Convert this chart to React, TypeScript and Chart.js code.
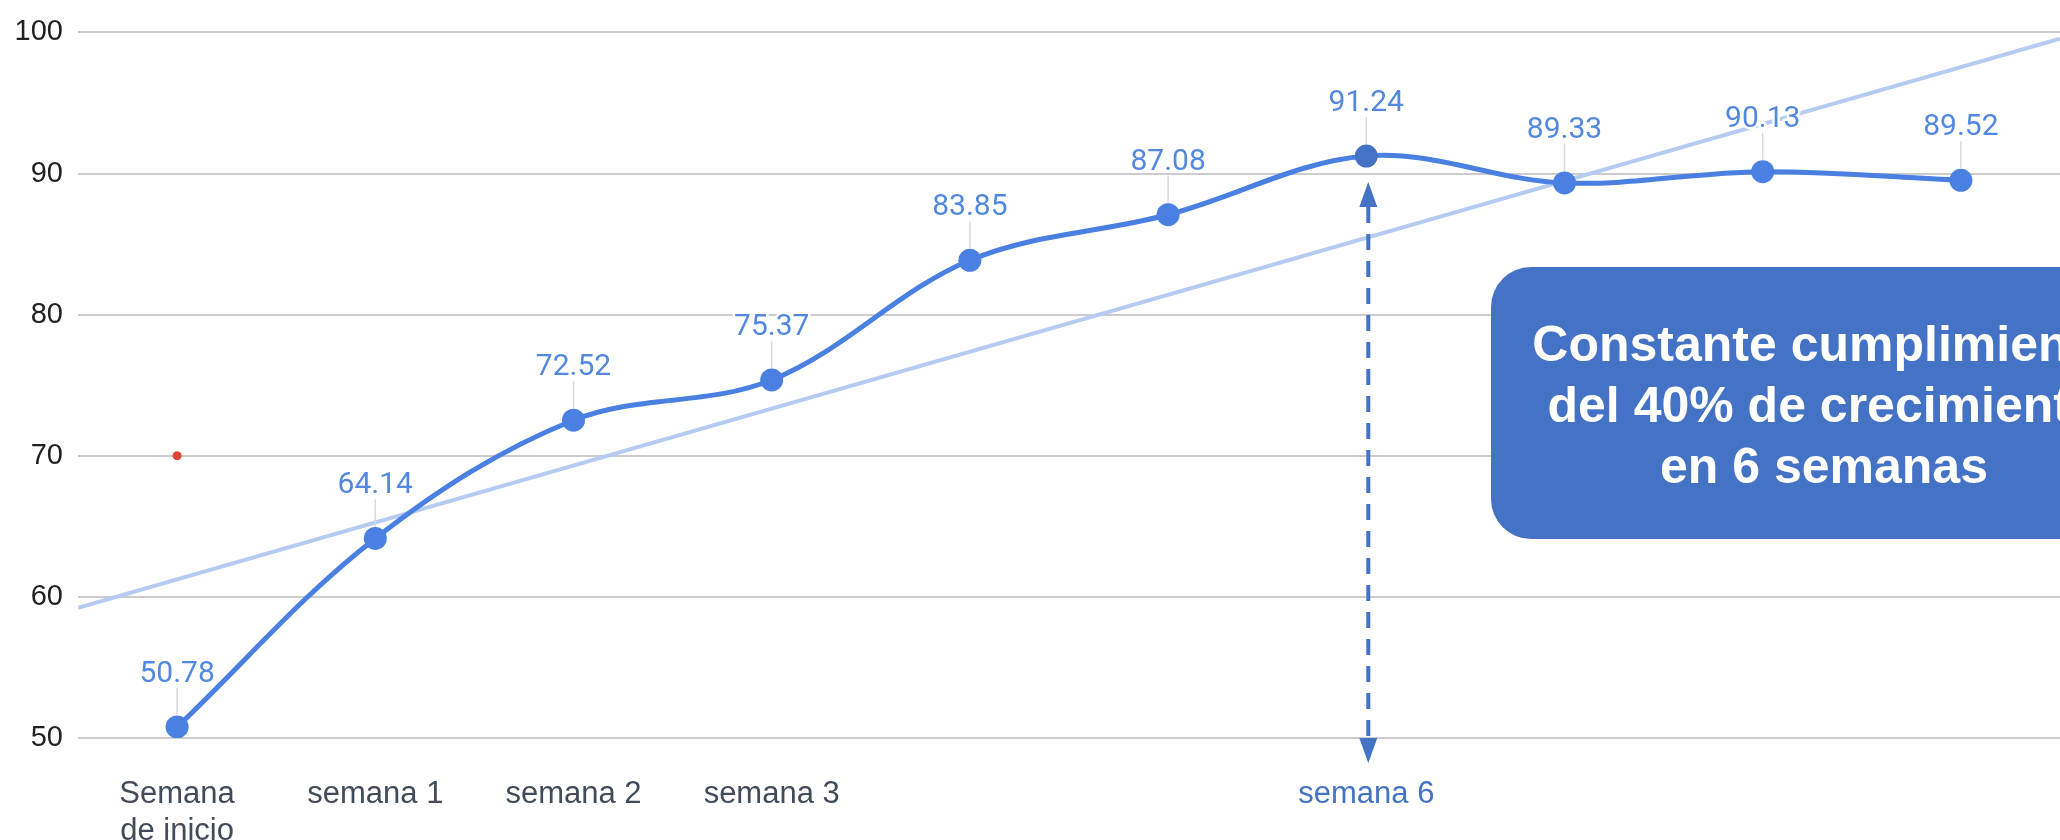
import React, { useEffect, useRef } from 'react';
import { Chart, registerables } from 'chart.js';

Chart.register(...registerables);

// ---- data ----
const xLabels: (string | string[])[] = [
  ['Semana', 'de inicio'],
  'semana 1',
  'semana 2',
  'semana 3',
  '',
  '',
  'semana 6',
  '',
  '',
  '',
];
const scores: number[] = [50.78, 64.14, 72.52, 75.37, 83.85, 87.08, 91.24, 89.33, 90.13, 89.52];
const goalIndex: number[] = [0];
const goalValues: number[] = [70];
const yTicks: number[] = [50, 60, 70, 80, 90, 100];
const highlightIndex = 6;
const noteLines: string[] = ['Constante cumplimiento', 'del 40% de crecimiento', 'en 6 semanas'];

// ---- styles ----
const LINE_BLUE = '#4a80e2';
const DARK_BLUE = '#4472c4';
const TREND_BLUE = '#b5cbf1';
const LABEL_BLUE = '#5288e0';
const SANS = "'Liberation Sans', Arial, sans-serif";

function linearFit(vals: number[]) {
  const n = vals.length;
  const mx = (n - 1) / 2;
  const my = vals.reduce((a, b) => a + b, 0) / n;
  let sxy = 0;
  let sxx = 0;
  vals.forEach((v, i) => {
    sxy += (i - mx) * (v - my);
    sxx += (i - mx) * (i - mx);
  });
  const m = sxy / sxx;
  return { m, b: my - m * mx };
}

const valueLabels = {
  id: 'valueLabels',
  afterDatasetsDraw(chart: any) {
    const meta = chart.getDatasetMeta(0);
    const ctx = chart.ctx as CanvasRenderingContext2D;
    ctx.save();
    meta.data.forEach((pt: any, i: number) => {
      const x = pt.x;
      const y = pt.y;
      ctx.strokeStyle = '#d9d9d9';
      ctx.lineWidth = 1.5;
      ctx.beginPath();
      ctx.moveTo(x, y - 39);
      ctx.lineTo(x, y - 12);
      ctx.stroke();
      const txt = scores[i].toFixed(2);
      ctx.font = '30px Roboto';
      ctx.textAlign = 'center';
      ctx.textBaseline = 'alphabetic';
      ctx.lineJoin = 'round';
      ctx.lineWidth = 5;
      ctx.strokeStyle = '#ffffff';
      ctx.strokeText(txt, x, y - 45);
      ctx.fillStyle = LABEL_BLUE;
      ctx.fillText(txt, x, y - 45);
    });
    ctx.restore();
  },
};

const annotations = {
  id: 'annotations',
  afterDraw(chart: any) {
    const ctx = chart.ctx as CanvasRenderingContext2D;
    const xs = chart.scales.x;
    const ys = chart.scales.y;
    const area = chart.chartArea;
    const ax = xs.getPixelForValue(highlightIndex) + 2;
    const topTip = ys.getPixelForValue(scores[highlightIndex]) + 26;
    const botTip = area.bottom + 25;
    const head = 25;
    const half = 9;
    ctx.save();
    // dashed shaft
    ctx.strokeStyle = DARK_BLUE;
    ctx.lineWidth = 4;
    ctx.setLineDash([16, 11]);
    ctx.beginPath();
    ctx.moveTo(ax, topTip + head);
    ctx.lineTo(ax, botTip - head);
    ctx.stroke();
    ctx.setLineDash([]);
    ctx.fillStyle = DARK_BLUE;
    ctx.beginPath();
    ctx.moveTo(ax, topTip);
    ctx.lineTo(ax - half, topTip + head);
    ctx.lineTo(ax + half, topTip + head);
    ctx.closePath();
    ctx.fill();
    ctx.beginPath();
    ctx.moveTo(ax, botTip);
    ctx.lineTo(ax - half, botTip - head);
    ctx.lineTo(ax + half, botTip - head);
    ctx.closePath();
    ctx.fill();

    // note box
    const bx = 1491;
    const by = 267;
    const bw = 666;
    const bh = 272;
    const r = 40;
    ctx.fillStyle = DARK_BLUE;
    ctx.beginPath();
    ctx.moveTo(bx + r, by);
    ctx.lineTo(bx + bw - r, by);
    ctx.arcTo(bx + bw, by, bx + bw, by + r, r);
    ctx.lineTo(bx + bw, by + bh - r);
    ctx.arcTo(bx + bw, by + bh, bx + bw - r, by + bh, r);
    ctx.lineTo(bx + r, by + bh);
    ctx.arcTo(bx, by + bh, bx, by + bh - r, r);
    ctx.lineTo(bx, by + r);
    ctx.arcTo(bx, by, bx + r, by, r);
    ctx.closePath();
    ctx.fill();
    ctx.fillStyle = '#ffffff';
    ctx.font = `bold 50px ${SANS}`;
    ctx.textAlign = 'center';
    ctx.textBaseline = 'alphabetic';
    const cx = bx + bw / 2;
    noteLines.forEach((line, i) => {
      ctx.fillText(line, cx, 361 + i * 61);
    });
    ctx.restore();
  },
};

export default function App() {
  const canvasRef = useRef<HTMLCanvasElement | null>(null);

  useEffect(() => {
    document.body.style.margin = '0';
    const canvas = canvasRef.current;
    if (!canvas) return;
    const fit = linearFit(scores);
    const trendData = [
      { x: -0.5, y: fit.b + fit.m * -0.5 },
      { x: xLabels.length - 0.5, y: fit.b + fit.m * (xLabels.length - 0.5) },
    ];
    const chart = new Chart(canvas, {
      type: 'line',
      data: {
        datasets: [
          {
            label: 'Cumplimiento',
            data: scores.map((v, i) => ({ x: i, y: v })),
            borderColor: LINE_BLUE,
            borderWidth: 5,
            tension: 0.35,
            pointRadius: 11.5,
            pointHoverRadius: 11.5,
            pointBorderWidth: 0,
            pointBackgroundColor: scores.map((_, i) => (i === highlightIndex ? DARK_BLUE : LINE_BLUE)),
          },
          {
            label: 'Tendencia',
            data: trendData,
            borderColor: TREND_BLUE,
            borderWidth: 4,
            pointRadius: 0,
          },
          {
            label: 'Meta',
            data: goalIndex.map((x, i) => ({ x, y: goalValues[i] })),
            showLine: false,
            pointRadius: 4.5,
            pointBorderWidth: 0,
            pointBackgroundColor: '#e04434',
          },
        ],
      } as any,
      options: {
        responsive: false,
        animation: false,
        layout: { autoPadding: false, padding: { top: 27, right: 0, left: 0, bottom: 0 } },
        plugins: { legend: { display: false }, tooltip: { enabled: false } },
        scales: {
          x: {
            type: 'linear',
            min: -0.5,
            max: xLabels.length - 0.5,
            grid: { display: false },
            border: { display: false },
            afterBuildTicks: (s: any) => {
              s.ticks = xLabels.map((_, i) => ({ value: i }));
            },
            afterFit: (s: any) => {
              s.height = 102;
              s.paddingLeft = 0;
              s.paddingRight = 0;
            },
            ticks: {
              autoSkip: false,
              maxRotation: 0,
              minRotation: 0,
              padding: 30,
              font: { family: SANS, size: 31 },
              color: (c: any) => (c.tick && c.tick.value === highlightIndex ? DARK_BLUE : '#424b59'),
              callback: (v: any) => xLabels[v as number] ?? '',
            },
          },
          y: {
            min: yTicks[0],
            max: yTicks[yTicks.length - 1],
            afterBuildTicks: (s: any) => {
              s.ticks = yTicks.map((v) => ({ value: v }));
            },
            afterFit: (s: any) => {
              s.width = 78;
            },
            grid: { color: '#cccccc', lineWidth: 2, drawTicks: false },
            border: { display: false },
            ticks: {
              padding: 15,
              font: { family: SANS, size: 29 },
              color: '#222222',
            },
          },
        },
      } as any,
      plugins: [valueLabels, annotations],
    });
    return () => chart.destroy();
  }, []);

  return (
    <div style={{ width: 2060, height: 840, position: 'relative' }}>
      <canvas ref={canvasRef} width={2060} height={840} style={{ display: 'block' }} />
    </div>
  );
}
